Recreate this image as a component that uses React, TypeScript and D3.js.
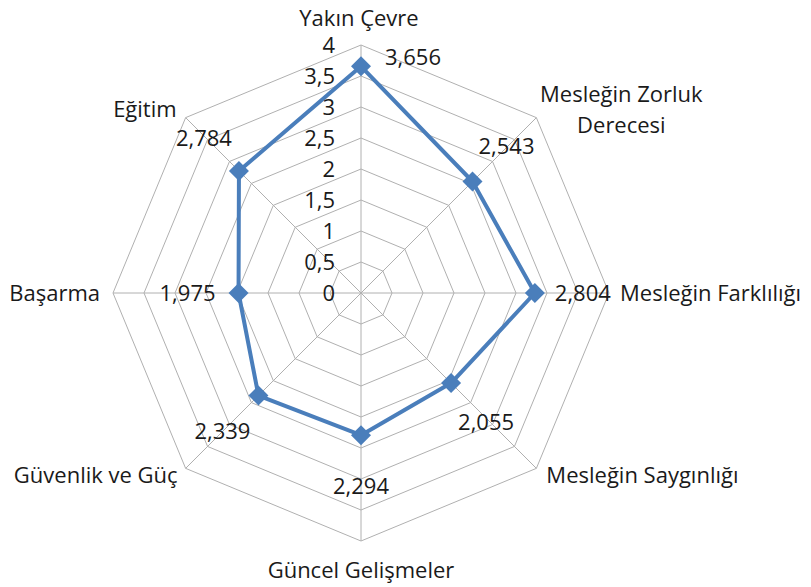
import * as d3 from 'd3'

const categories = [
  'Yakın Çevre',
  'Mesleğin Zorluk Derecesi',
  'Mesleğin Farklılığı',
  'Mesleğin Saygınlığı',
  'Güncel Gelişmeler',
  'Güvenlik ve Güç',
  'Başarma',
  'Eğitim',
]
const values = [3.656, 2.543, 2.804, 2.055, 2.294, 2.339, 1.975, 2.784]
const ticks = [0, 0.5, 1, 1.5, 2, 2.5, 3, 3.5, 4]

// label placement (offsets from the point / outer vertex)
const valueOffsets: Array<[number, number, 'start' | 'middle' | 'end']> = [
  [24, -9, 'start'],
  [6, -35, 'start'],
  [20, 0, 'start'],
  [7, 39, 'start'],
  [0, 51, 'middle'],
  [-8, 36, 'end'],
  [-23, 0, 'end'],
  [-7, -33, 'end'],
]
const catOffsets: Array<[number, number, 'start' | 'middle' | 'end']> = [
  [-2, -27, 'middle'],
  [85, -8, 'middle'],
  [11, 0, 'start'],
  [10, 7, 'start'],
  [0, 29, 'middle'],
  [-8, 7, 'end'],
  [-13, 0, 'end'],
  [-9, -8, 'end'],
]
const catLines: Record<string, string[]> = {
  'Mesleğin Zorluk Derecesi': ['Mesleğin Zorluk', 'Derecesi'],
}

const W = 811
const H = 587
const cx = 361
const cy = 293
const R = 248
const FONT = '"Open Sans", sans-serif'
const FS = 22
const BLUE = '#4a7ebb'

export default function App() {
  const r = d3.scaleLinear().domain([0, 4]).range([0, R])
  const angle = (i: number) => (i * 2 * Math.PI) / categories.length
  const pt = (i: number, v: number): [number, number] => [
    cx + r(v) * Math.sin(angle(i)),
    cy - r(v) * Math.cos(angle(i)),
  ]

  const ring = (v: number) =>
    d3.line().curve(d3.curveLinearClosed)(categories.map((_, i) => pt(i, v))) ?? ''

  const series =
    d3.line().curve(d3.curveLinearClosed)(values.map((v, i) => pt(i, v))) ?? ''
  const diamond = d3.symbol(d3.symbolSquare, 200)() ?? ''
  const fmt = (v: number) => d3.format('.3f')(v).replace('.', ',')

  return (
    <div style={{ position: 'fixed', left: 0, top: 0 }}>
      <svg width={W} height={H} style={{ display: 'block', background: '#fff' }}>
        <g fill="none" stroke="#b0b0b0" strokeWidth={1}>
          {ticks.slice(1).map((t) => (
            <path key={t} d={ring(t)} />
          ))}
          {categories.map((c, i) => {
            const [x, y] = pt(i, 4)
            return <line key={c} x1={cx} y1={cy} x2={x} y2={y} />
          })}
        </g>

        <g fontFamily={FONT} fontSize={FS} fill="#1a1a1a">
          {ticks.map((t) => (
            <text key={t} x={cx - 26} y={cy - r(t)} dy="0.35em" textAnchor="end">
              {String(t).replace('.', ',')}
            </text>
          ))}
        </g>

        <path d={series} fill="none" stroke={BLUE} strokeWidth={4} strokeLinejoin="round" />
        {values.map((v, i) => {
          const [x, y] = pt(i, v)
          return (
            <path
              key={i}
              d={diamond}
              fill={BLUE}
              transform={`translate(${x},${y}) rotate(45)`}
            />
          )
        })}

        <g fontFamily={FONT} fontSize={FS} fill="#1a1a1a">
          {values.map((v, i) => {
            const [x, y] = pt(i, v)
            const [dx, dy, anchor] = valueOffsets[i]
            return (
              <text key={i} x={x + dx} y={y + dy} dy="0.35em" textAnchor={anchor}>
                {fmt(v)}
              </text>
            )
          })}
          {categories.map((c, i) => {
            const [x, y] = pt(i, 4)
            const [dx, dy, anchor] = catOffsets[i]
            const lines = catLines[c] ?? [c]
            const lh = 31
            return (
              <text key={c} textAnchor={anchor}>
                {lines.map((l, k) => (
                  <tspan
                    key={k}
                    x={x + dx}
                    y={y + dy + (k - (lines.length - 1) / 2) * lh}
                    dy="0.35em"
                  >
                    {l}
                  </tspan>
                ))}
              </text>
            )
          })}
        </g>
      </svg>
    </div>
  )
}
